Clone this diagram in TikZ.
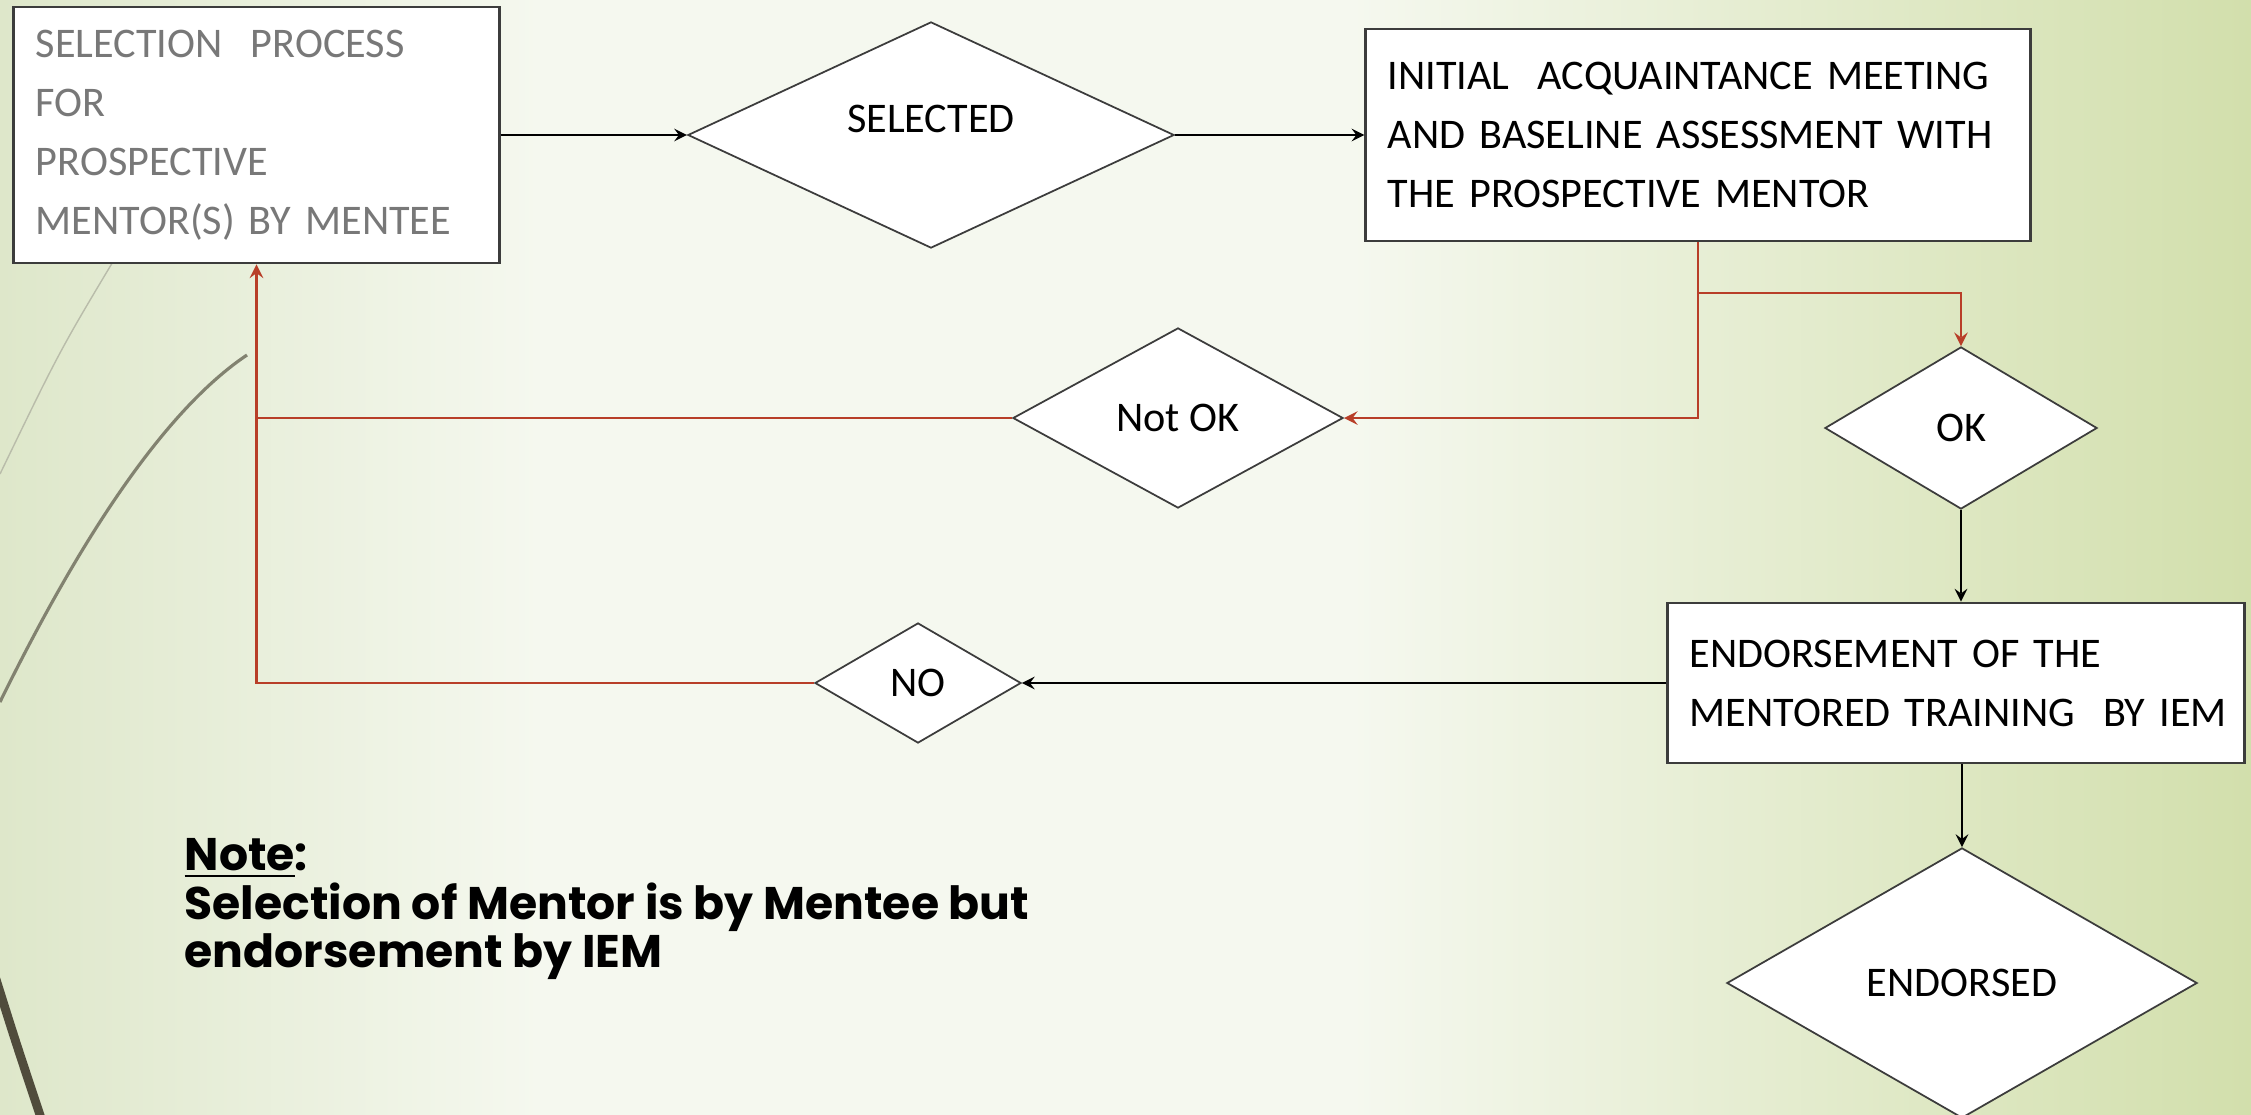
\documentclass[tikz,border=0pt]{standalone}
\usepackage{fontspec}
\setmainfont{Carlito}
\newfontfamily\notefont{Poppins}
\usepackage{xcolor}
\usetikzlibrary{shapes.geometric, arrows, calc}

\definecolor{bgleft}{RGB}{222,231,202}
\definecolor{bgmid}{RGB}{245,248,239}
\definecolor{bgright}{RGB}{210,223,172}
\definecolor{boxline}{RGB}{60,60,60}
\definecolor{greytext}{RGB}{120,120,120}
\definecolor{redline}{RGB}{184,62,40}
\definecolor{wisplight}{RGB}{185,188,170}
\definecolor{wispmid}{RGB}{130,130,112}
\definecolor{wispdark}{RGB}{80,76,60}

\pgfdeclarehorizontalshading{slidebg}{100bp}{color(0bp)=(bgleft); color(25bp)=(bgleft); color(37bp)=(bgmid); color(55bp)=(bgmid); color(75bp)=(bgright); color(100bp)=(bgright)}

\newcommand{\flowfont}{\fontsize{12}{16.8}\selectfont}

\begin{document}
\begin{tikzpicture}[
  x=0.01cm, y=-0.01cm,
  procbox/.style={rectangle, draw=boxline, line width=0.8pt, fill=white, align=left, inner xsep=0.22cm, font=\flowfont},
  decision/.style={diamond, draw=boxline, line width=0.5pt, fill=white, inner sep=1pt, font=\flowfont},
  arrow/.style={->, >=stealth, line width=0.6pt},
  redarrow/.style={arrow, draw=redline, line width=0.7pt}
]
% background and wisps
\useasboundingbox (0,0) rectangle (2251,1115);
\shade[shading=slidebg] (0,0) rectangle (2251,1115);
\draw[wisplight, line width=0.4pt] (120,250) .. controls (60,350) .. (0,474);
\draw[wispmid, line width=0.9pt] (247,355) .. controls (150,420) and (60,580) .. (0,702);
\draw[wispdark, line width=2.5pt] (-10,960) .. controls (15,1040) .. (45,1130);

\node[procbox, text=greytext, text width=4.41cm, minimum width=4.85cm, minimum height=2.56cm] (select) at (256.5,135)
  {SELECTION\ \ PROCESS\\FOR\\PROSPECTIVE\\MENTOR(S) BY MENTEE};
\node[decision, minimum width=4.86cm, minimum height=2.26cm] (selected) at (931,135) {\smash{\raisebox{0.02cm}{SELECTED}}};
\node[procbox, text width=6.20cm, minimum width=6.64cm, minimum height=2.12cm] (meeting) at (1698,135)
  {INITIAL\ \ ACQUAINTANCE MEETING\\AND BASELINE ASSESSMENT WITH\\THE PROSPECTIVE MENTOR};
\node[decision, minimum width=3.30cm, minimum height=1.80cm] (notok) at (1178,418) {Not OK};
\node[decision, minimum width=2.72cm, minimum height=1.62cm] (ok) at (1961,428) {OK};
\node[procbox, text width=5.32cm, minimum width=5.76cm, minimum height=1.60cm] (endorse) at (1956,683)
  {ENDORSEMENT OF THE\\\mbox{MENTORED TRAINING\ \ BY IEM}};
\node[decision, minimum width=2.06cm, minimum height=1.20cm] (no) at (918,683) {NO};
\node[decision, minimum width=4.70cm, minimum height=2.70cm] (endorsed) at (1962,983) {ENDORSED};

\node[anchor=north west, inner sep=0pt, align=left, font=\notefont\bfseries\fontsize{13}{13.8}\selectfont] (note) at (184,838)
  {\underline{Note}:\\Selection of Mentor is by Mentee but\\endorsement by IEM};

\coordinate (split) at (1698,293);

\draw[arrow] (select.east) -- (selected.west);
\draw[arrow] (selected.east) -- (selected.east -| meeting.west);
\draw[redarrow] (meeting.south) |- (notok.east);
\draw[redarrow] (split) -| (ok.north);
\draw[arrow] (ok.south) -- (ok.south |- endorse.north);
\draw[arrow] (endorse.west) -- (no.east);
\draw[redarrow] (no.west) -| (select.south);
\draw[redline, line width=0.7pt] (notok.west) -- (notok.west -| select.south);
\draw[arrow] (endorsed.north |- endorse.south) -- (endorsed.north);
\end{tikzpicture}
\end{document}
